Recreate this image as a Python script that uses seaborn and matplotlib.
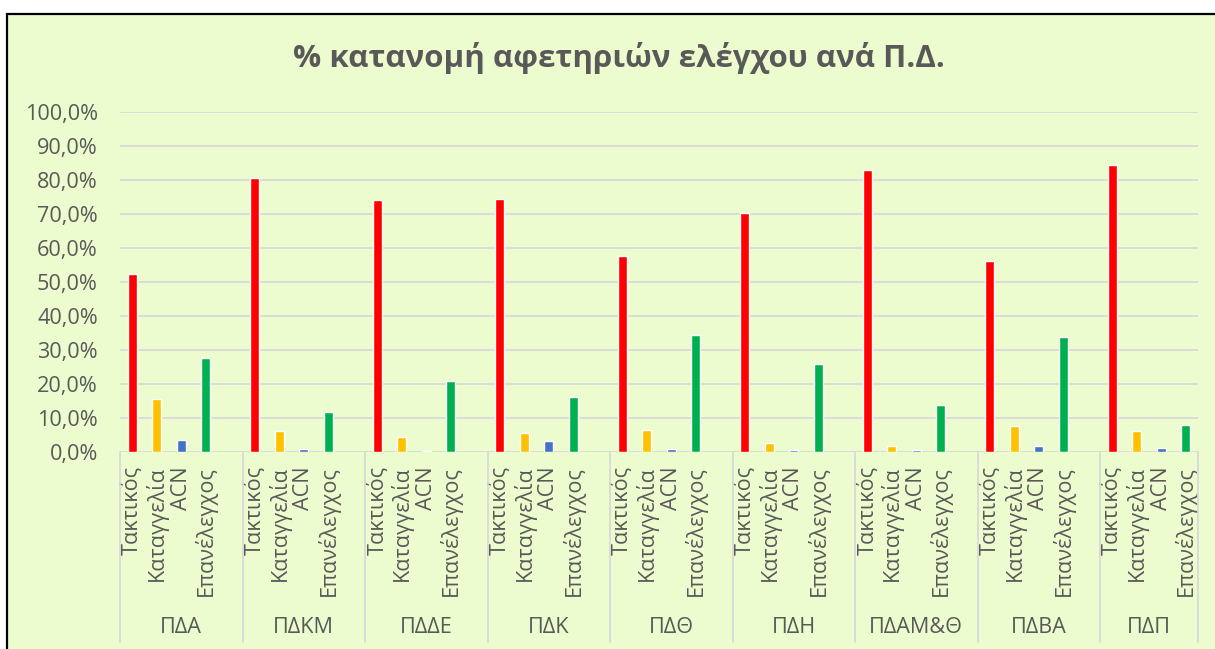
import numpy as np
import pandas as pd
import matplotlib
matplotlib.use('Agg')
import matplotlib.pyplot as plt
import seaborn as sns
from matplotlib.patches import Rectangle
from matplotlib.ticker import FuncFormatter
from matplotlib.transforms import blended_transform_factory

# Δεδομένα (τιμές σε %)
perifereies = ['ΠΔΑ', 'ΠΔΚΜ', 'ΠΔΔΕ', 'ΠΔΚ', 'ΠΔΘ', 'ΠΔΗ', 'ΠΔΑΜ&Θ', 'ΠΔΒΑ', 'ΠΔΠ']
katigories = ['Τακτικός', 'Καταγγελία', 'ACN', 'Επανέλεγχος']
taktikos = [52.4, 80.6, 74.2, 74.5, 57.7, 70.3, 83.0, 56.2, 84.5]
kataggelia = [15.5, 6.1, 4.3, 5.5, 6.4, 2.6, 1.7, 7.6, 6.1]
acn = [3.4, 0.8, 0.2, 3.1, 0.9, 0.6, 0.7, 1.7, 1.1]
epanelegxos = [27.6, 11.7, 20.8, 16.1, 34.4, 25.8, 13.8, 33.8, 7.9]
y_ticks = [0, 10, 20, 30, 40, 50, 60, 70, 80, 90, 100]

xromata = ['#FF0000', '#FFC000', '#4472C4', '#00B050']
fonto = '#EDFCCE'
gkri = '#595959'
grammes = '#D9D9D9'

# Πίνακας σε long μορφή: 5 θέσεις ανά Π.Δ. (η 5η κενή, όπως στο Excel)
rows = []
for g, name in enumerate(perifereies):
    for s, (kat, vals) in enumerate(zip(katigories, [taktikos, kataggelia, acn, epanelegxos])):
        rows.append([name, kat, g * 5 + s, vals[g] / 100])
df = pd.DataFrame(rows, columns=['perifereia', 'katigoria', 'thesi', 'timi'])
n_slots = 5 * (len(perifereies) - 1) + 4

sns.set_style('white')
plt.rcParams['font.family'] = ['Open Sans', 'DejaVu Sans']

fig = plt.figure(figsize=(12.15, 6.49), dpi=100)
fig.patch.set_facecolor('white')
fig.add_artist(Rectangle((6.5 / 1215, -0.1), 1.2, 1 - 13.5 / 649 + 0.1,
                         transform=fig.transFigure, facecolor=fonto,
                         edgecolor='black', lw=1.6, zorder=0))

ax = fig.add_axes([120 / 1215, (649 - 452) / 649, (1198 - 120) / 1215, 340 / 649])
ax.set_facecolor('none')

sns.barplot(data=df, x='thesi', y='timi', hue='katigoria', hue_order=katigories,
            palette=xromata, dodge=False, native_scale=True, width=0.36,
            saturation=1, errorbar=None, legend=False, ax=ax)

ax.set_xlim(-0.5, n_slots - 0.5)
ax.set_ylim(0, 1)
for sp in ax.spines.values():
    sp.set_visible(False)
ax.set_axisbelow(True)
ax.yaxis.grid(True, color=grammes, lw=1.3)
ax.set_yticks([v / 100 for v in y_ticks])
ax.yaxis.set_major_formatter(FuncFormatter(lambda v, p: f'{v * 100:.1f}%'.replace('.', ',')))
ax.tick_params(axis='y', length=0, pad=16, labelsize=15.6, labelcolor=gkri)

ax.set_xticks(df['thesi'])
ax.set_xticklabels(df['katigoria'], rotation=90)
ax.tick_params(axis='x', length=0, pad=10, labelsize=15.6, labelcolor=gkri)
ax.set_xlabel('')
ax.set_ylabel('')

# Δεύτερο επίπεδο κατηγοριών και διαχωριστικά
tr = blended_transform_factory(ax.transData, ax.transAxes)
oria = [g * 5 - 0.5 for g in range(len(perifereies))] + [n_slots - 0.5]
for x in oria:
    ax.plot([x, x], [0, -0.559], color=grammes, lw=1.3, transform=tr, clip_on=False)
for g, name in enumerate(perifereies):
    ax.text((oria[g] + oria[g + 1]) / 2, -0.515, name, transform=tr,
            ha='center', va='center', fontsize=15.6, color=gkri)

fig.text(619 / 1215, 1 - 58 / 649, '% κατανομή αφετηριών ελέγχου ανά Π.Δ.',
         ha='center', va='center', fontsize=22.5, fontweight='bold', color=gkri)

fig.savefig('out.png', dpi=100)
